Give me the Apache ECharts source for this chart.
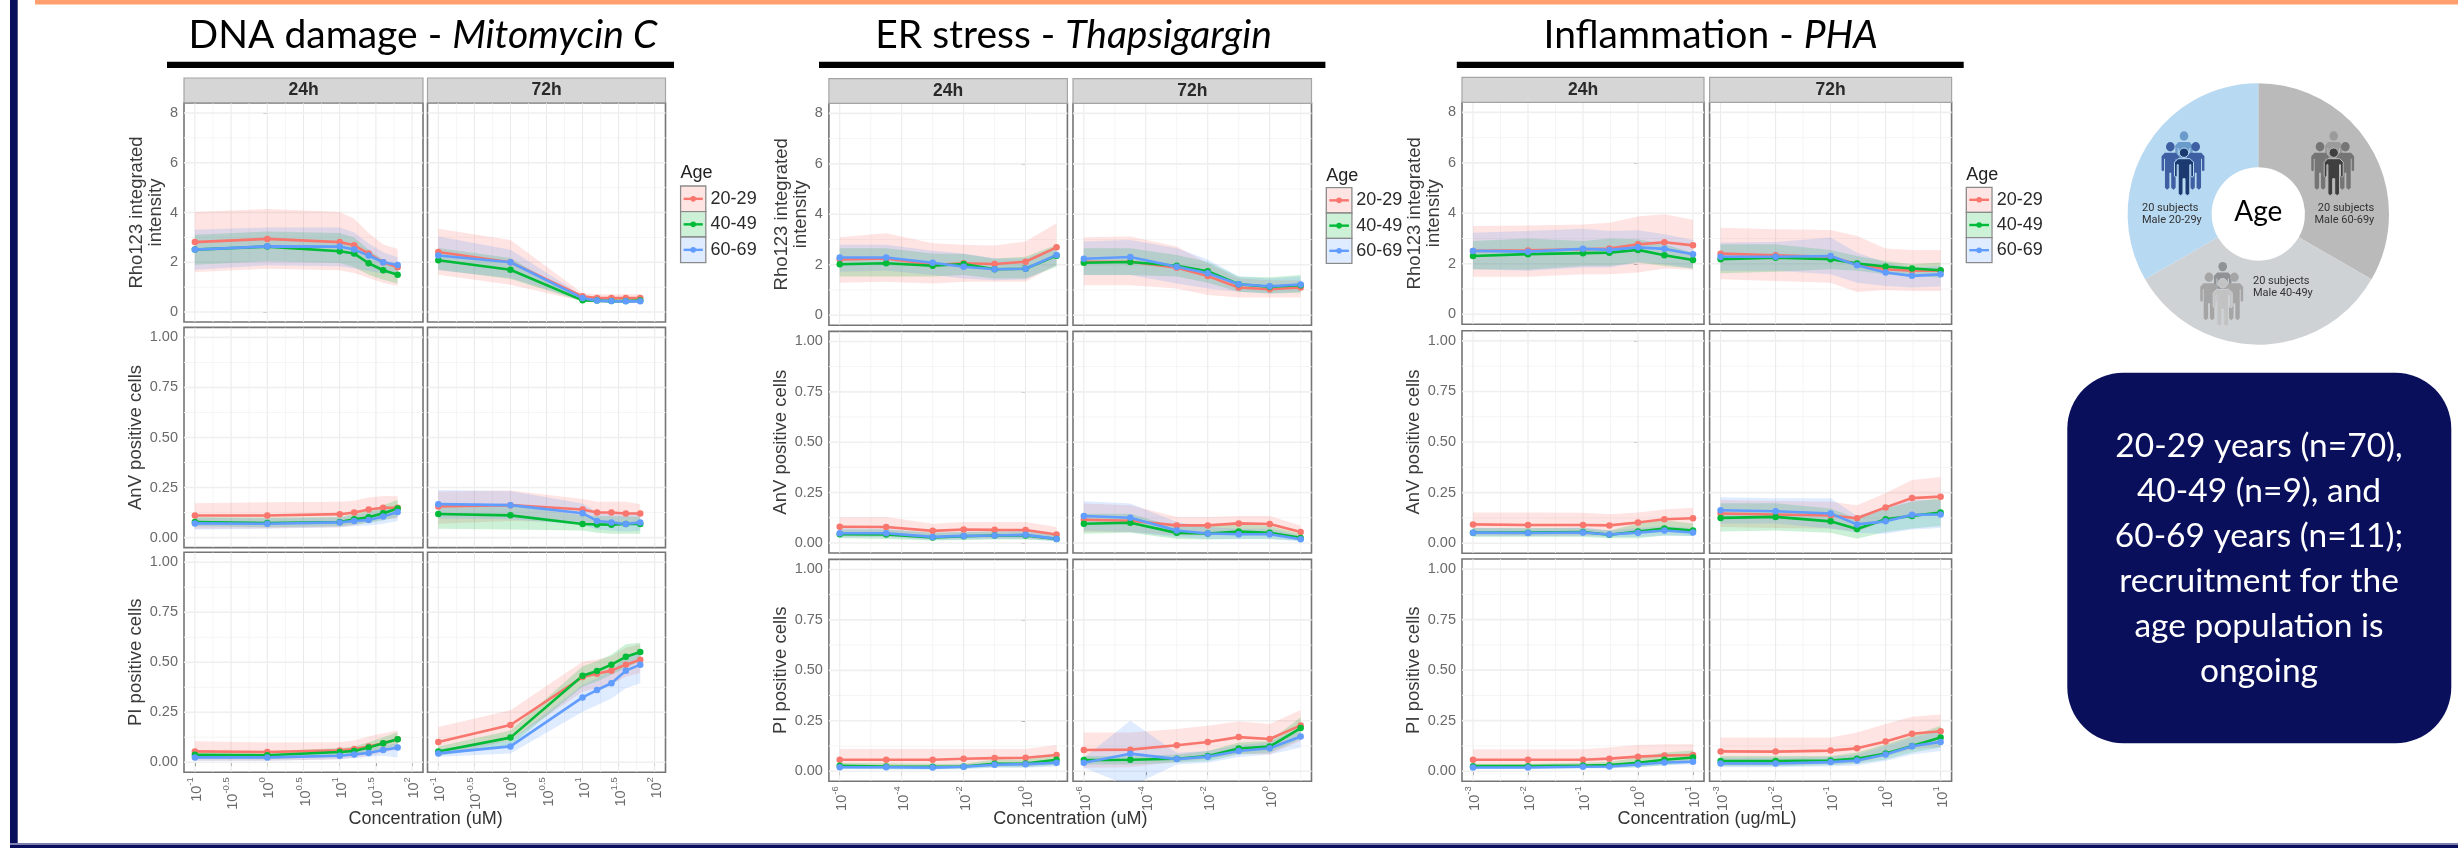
<!DOCTYPE html>
<html>
<head>
<meta charset="utf-8">
<style>html,body{margin:0;padding:0;background:#fff}#c{width:2458px;height:848px;filter:blur(0.45px)}</style>
<script src="https://cdn.jsdelivr.net/npm/echarts@6/dist/echarts.min.js"></script>
</head>
<body>
<div id="c"></div>
<script>
// ---------- categories & tick labels ----------
const ageGroups = ['20-29','40-49','60-69'];
const timepoints = ['24h','72h'];
const readouts = ['Rho123 integrated\nintensity','AnV positive cells','PI positive cells'];
const rhoTicks = [0,2,4,6,8];
const rhoMinor = [1,3,5,7];
const fracTicks = [0,0.25,0.5,0.75,1];
const fracMinor = [0.125,0.375,0.625,0.875];

const dnaLogConc = [-1,0,1,1.2,1.4,1.6,1.8];
const erLogConc  = [-6,-4.5,-3,-2,-1,0,1];
const phaLogConc = [-3,-2,-1,-0.52,0,0.48,1];
const dnaTicks = [-1,-0.5,0,0.5,1,1.5,2];
const dnaMinor = [-0.75,-0.25,0.25,0.75,1.25,1.75];
const erTicks = [-6,-4,-2,0];
const erMinor = [-5,-3,-1,1];
const phaTicks = [-3,-2,-1,0,1];
const phaMinor = [-2.5,-1.5,-0.5,0.5];

// ---------- series values: [age group] -> [mean, lower, upper] ----------
const dnaRho24 = [
 [[2.81,2.94,2.81,2.68,2.35,2.0,1.80],[1.61,1.74,1.68,1.57,1.37,1.17,1.06],[4.02,4.14,4.02,3.75,3.18,2.71,2.53]],
 [[2.51,2.63,2.44,2.35,1.96,1.68,1.50],[1.9,2.04,1.97,1.8,1.5,1.3,1.15],[3.11,3.24,3.18,3.0,2.5,2.1,1.85]],
 [[2.51,2.64,2.63,2.51,2.27,2.0,1.89],[1.7,1.88,1.84,1.75,1.65,1.55,1.55],[3.31,3.4,3.4,3.2,2.75,2.4,2.2]]];
const dnaRho72 = [
 [[2.41,2.0,0.63,0.56,0.56,0.56,0.56],[1.5,1.1,0.43,0.36,0.36,0.36,0.36],[3.35,2.9,0.76,0.72,0.72,0.72,0.72]],
 [[2.08,1.70,0.47,0.46,0.44,0.44,0.46],[1.7,1.33,0.42,0.4,0.38,0.38,0.4],[2.57,2.17,0.5,0.5,0.5,0.5,0.5]],
 [[2.27,2.0,0.56,0.46,0.44,0.43,0.43],[1.68,1.37,0.47,0.39,0.38,0.37,0.37],[3.04,2.5,0.65,0.53,0.5,0.5,0.5]]];
const dnaAnv24 = [
 [[.11,.11,.117,.125,.14,.149,.149],[.044,.047,.052,.061,.078,.091,.095],[.172,.177,.179,.184,.2,.208,.206]],
 [[.078,.073,.078,.091,.101,.122,.145],[.057,.052,.057,.066,.073,.086,.103],[.103,.1,.103,.12,.137,.162,.188]],
 [[.071,.069,.076,.083,.088,.105,.128],[.04,.044,.052,.057,.061,.069,.083],[.098,.095,.1,.111,.125,.142,.159]]];
const dnaAnv72 = [
 [[.155,.162,.14,.125,.125,.12,.12],[.069,.083,.078,.064,.061,.061,.064],[.23,.235,.193,.179,.179,.179,.167]],
 [[.118,.111,.068,.066,.064,.068,.068],[.044,.04,.035,.024,.019,.019,.019],[.17,.162,.111,.108,.106,.106,.103]],
 [[.167,.162,.122,.083,.076,.068,.076],[.095,.091,.064,.04,.035,.03,.035],[.238,.233,.17,.128,.12,.111,.12]]];
const dnaPi24 = [
 [[.054,.051,.059,.066,.078,.095,.115],[.007,.007,.015,.024,.032,.049,.066],[.105,.098,.1,.108,.128,.145,.159]],
 [[.037,.035,.051,.056,.074,.095,.115],[.019,.015,.029,.035,.049,.066,.083],[.057,.054,.071,.078,.1,.125,.15]],
 [[.024,.024,.032,.039,.046,.061,.073],[.007,.007,.015,.02,.027,.032,.024],[.041,.041,.049,.054,.066,.083,.095]]];
const dnaPi72 = [
 [[.101,.186,.426,.443,.458,.488,.512],[.032,.108,.353,.37,.387,.429,.446],[.176,.26,.502,.514,.53,.573,.59]],
 [[.054,.123,.432,.456,.488,.527,.551],[.032,.083,.378,.404,.4375,.471,.505],[.078,.159,.48,.505,.539,.59,.598]],
 [[.044,.079,.324,.361,.395,.458,.488],[.027,.044,.252,.285,.319,.37,.395],[.066,.108,.387,.42,.463,.522,.547]]];

const erRho24 = [
 [[2.21,2.25,1.99,2.06,2.03,2.12,2.69],[1.29,1.33,1.26,1.33,1.33,1.33,1.99],[3.09,3.25,2.85,2.79,2.76,2.92,3.65]],
 [[2.02,2.06,1.96,2.03,1.82,1.84,2.36],[1.53,1.53,1.53,1.59,1.46,1.46,1.92],[2.65,2.65,2.45,2.43,2.25,2.32,2.79]],
 [[2.29,2.29,2.08,1.92,1.82,1.84,2.39],[1.72,1.76,1.59,1.46,1.39,1.42,1.99],[2.79,2.79,2.56,2.45,2.25,2.25,2.72]]];
const erRho72 = [
 [[2.12,2.12,1.88,1.55,1.10,1.03,1.10],[1.19,1.19,1.06,.8,.7,.7,.7],[3.09,3.12,2.72,2.06,1.46,1.39,1.39]],
 [[2.08,2.11,1.96,1.74,1.23,1.13,1.19],[1.59,1.59,1.53,1.29,.93,.86,.89],[2.65,2.65,2.39,2.12,1.53,1.5,1.59]],
 [[2.24,2.31,1.92,1.66,1.23,1.15,1.22],[1.59,1.59,1.26,1.06,.93,.86,.93],[2.92,2.98,2.65,2.21,1.53,1.46,1.53]]];
const erAnv24 = [
 [[.08,.079,.06,.067,.065,.064,.042],[.033,.032,.02,.023,.023,.023,.012],[.127,.129,.095,.104,.104,.104,.079]],
 [[.043,.042,.027,.033,.037,.037,.02],[.023,.02,.012,.015,.017,.017,.01],[.067,.067,.05,.054,.057,.057,.037]],
 [[.048,.048,.03,.035,.037,.04,.02],[.028,.028,.015,.017,.02,.02,.008],[.074,.07,.05,.057,.057,.062,.037]]];
const erAnv72 = [
 [[.115,.11,.087,.087,.097,.094,.054],[.054,.054,.037,.037,.045,.045,.02],[.196,.187,.129,.129,.134,.134,.087]],
 [[.095,.1,.05,.047,.057,.05,.025],[.045,.05,.02,.017,.02,.02,.012],[.145,.145,.079,.087,.095,.084,.045]],
 [[.134,.125,.062,.047,.043,.043,.018],[.062,.054,.028,.02,.02,.02,.007],[.207,.196,.104,.079,.07,.07,.037]]];
const erPi24 = [
 [[.057,.057,.057,.062,.065,.067,.08],[.025,.025,.02,.02,.025,.025,.037],[.11,.11,.11,.11,.11,.11,.13]],
 [[.027,.023,.022,.023,.037,.038,.057],[.013,.01,.01,.013,.02,.02,.03],[.042,.04,.037,.037,.058,.058,.083]],
 [[.02,.02,.018,.022,.032,.035,.042],[.01,.01,.008,.01,.017,.017,.023],[.03,.03,.028,.033,.045,.047,.058]]];
const erPi72 = [
 [[.105,.107,.129,.145,.169,.16,.227],[.017,.02,.047,.062,.087,.083,.15],[.192,.192,.209,.225,.247,.234,.304]],
 [[.055,.057,.062,.075,.112,.122,.214],[.033,.033,.042,.05,.083,.092,.159],[.075,.075,.083,.1,.142,.15,.267]],
 [[.042,.087,.06,.072,.1,.114,.172],[.017,-.075,.033,.042,.07,.083,.117],[.067,.25,.092,.1,.13,.142,.22]]];

const phaRho24 = [
 [[2.51,2.53,2.57,2.60,2.77,2.85,2.73],[1.48,1.48,1.58,1.58,1.65,1.81,1.76],[3.5,3.52,3.56,3.63,3.87,3.96,3.74]],
 [[2.31,2.38,2.42,2.44,2.55,2.34,2.15],[1.78,1.76,1.91,1.91,2.05,1.91,1.81],[2.9,3.0,2.9,3.0,2.97,2.77,2.44]],
 [[2.51,2.48,2.59,2.55,2.65,2.59,2.38],[1.78,1.72,1.85,1.85,2.05,1.98,1.81],[3.23,3.3,3.39,3.3,3.33,3.17,2.94]]];
const phaRho72 = [
 [[2.4,2.34,2.28,1.98,1.78,1.72,1.72],[1.39,1.32,1.25,.88,.96,.92,.92],[3.43,3.37,3.34,3.1,2.6,2.55,2.55]],
 [[2.18,2.24,2.18,2.01,1.89,1.81,1.74],[1.62,1.68,1.78,1.72,1.58,1.52,1.45],[2.77,2.77,2.55,2.31,2.11,1.98,2.05]],
 [[2.28,2.28,2.31,1.94,1.65,1.52,1.58],[1.72,1.72,1.58,1.25,1.12,1.06,1.1],[2.84,2.86,3.04,2.44,2.05,1.85,1.91]]];
const phaAnv24 = [
 [[.093,.09,.09,.088,.102,.118,.123],[.038,.038,.038,.038,.052,.063,.072],[.152,.152,.15,.143,.152,.167,.175]],
 [[.052,.052,.055,.042,.058,.073,.063],[.03,.03,.03,.025,.025,.038,.035],[.075,.075,.075,.063,.097,.113,.097]],
 [[.052,.05,.053,.043,.052,.063,.053],[.035,.035,.035,.03,.03,.038,.035],[.075,.072,.077,.063,.075,.085,.075]]];
const phaAnv72 = [
 [[.147,.142,.137,.123,.177,.223,.23],[.08,.075,.072,.058,.108,.138,.138],[.213,.208,.205,.188,.247,.313,.327]],
 [[.125,.13,.108,.07,.118,.135,.152],[.058,.063,.052,.022,.055,.072,.085],[.197,.197,.172,.122,.172,.205,.222]],
 [[.163,.158,.147,.093,.108,.14,.142],[.097,.097,.072,.052,.047,.068,.075],[.227,.222,.222,.135,.18,.213,.213]]];
const phaPi24 = [
 [[.057,.057,.057,.062,.072,.078,.08],[.025,.025,.025,.025,.033,.042,.042],[.108,.108,.108,.117,.13,.133,.133]],
 [[.025,.025,.028,.03,.042,.057,.068],[.013,.013,.017,.017,.02,.03,.042],[.037,.037,.042,.047,.067,.092,.103]],
 [[.018,.018,.022,.023,.033,.043,.047],[.012,.012,.013,.013,.02,.03,.033],[.027,.027,.03,.033,.047,.058,.063]]];
const phaPi72 = [
 [[.098,.097,.102,.113,.147,.185,.198],[.03,.03,.037,.042,.075,.108,.12],[.167,.167,.167,.192,.233,.27,.28]],
 [[.05,.05,.053,.062,.087,.125,.167],[.025,.025,.03,.037,.058,.092,.117],[.075,.075,.075,.092,.133,.175,.225]],
 [[.038,.038,.045,.053,.083,.123,.145],[.02,.02,.025,.028,.05,.083,.1],[.067,.067,.07,.083,.125,.167,.197]]];

const cohortSubjects = [20,20,20];
const cohortNames = ['Male 60-69y','Male 40-49y','Male 20-29y'];
const noteLines = ['20-29 years (n=70),','40-49 (n=9), and','60-69 years (n=11);','recruitment for the','age population is','ongoing'];

// ---------- styles ----------
const AGE_COLORS = ['#F8766D','#00BA38','#619CFF'];
const RIBBON_ALPHA = 0.2;
const NAVY = '#0a0f5c';
const SANS = '"Liberation Sans", Arial, sans-serif';
const HEAD = 'Lato, sans-serif';
const AXIS_GREY = '#7a7a7a';
const LABEL_GREY = '#6a6a6a';

// ---------- layout ----------
const experiments = [
 {title:'DNA damage - ', drug:'Mitomycin C', titleX:423, rule:[167,674], unit:'Concentration (uM)', unitX:425.6,
  cols:[[184,423],[427.5,665.5]], strip:[78,102.7],
  rows:[[103,322],[327.4,547.6],[552.3,772.2]], xr:[-1.15,2.15], nameGap:[15,23],
  x:dnaLogConc, ticks:dnaTicks, minor:dnaMinor,
  data:[[dnaRho24,dnaRho72],[dnaAnv24,dnaAnv72],[dnaPi24,dnaPi72]],
  legend:{x:680.6,w:25.2,ys:[186,211.7,237,262.7],ageY:172.7,labX:710.6}},
 {title:'ER stress - ', drug:'Thapsigargin', titleX:1073.5, rule:[819,1325.4], unit:'Concentration (uM)', unitX:1070.4,
  cols:[[828.9,1067.4],[1073,1311.5]], strip:[78.7,103.3],
  rows:[[103.3,325.3],[331.4,553],[559.4,781.3]], xr:[-6.35,1.35], nameGap:[15,23],
  x:erLogConc, ticks:erTicks, minor:erMinor,
  data:[[erRho24,erRho72],[erAnv24,erAnv72],[erPi24,erPi72]],
  legend:{x:1326.3,w:25.6,ys:[187.7,213,238.3,263.3],ageY:175.7,labX:1356.2}},
 {title:'Inflammation - ', drug:'PHA', titleX:1710.7, rule:[1456.8,1963.7], unit:'Concentration (ug/mL)', unitX:1707,
  cols:[[1462,1704],[1709.6,1951.6]], strip:[77.3,102.3],
  rows:[[102.3,324.3],[330.8,553.3],[559,781.3]], xr:[-3.2,1.2], nameGap:[16,24],
  x:phaLogConc, ticks:phaTicks, minor:phaMinor,
  data:[[phaRho24,phaRho72],[phaAnv24,phaAnv72],[phaPi24,phaPi72]],
  legend:{x:1966.3,w:25.7,ys:[187.3,212.3,237.7,262.7],ageY:175,labX:1996.7}}
];

function ribbonFill(i){
  return echarts.color.modifyAlpha(AGE_COLORS[i], RIBBON_ALPHA);
}

const grids=[],xAxes=[],yAxes=[],series=[],graphics=[];

function txt(x,y,text,o){
  graphics.push({type:'text',x,y,z:50,silent:true,style:Object.assign({
    text,fontFamily:SANS,fontSize:16,fill:'#222',textAlign:'left',textVerticalAlign:'middle'},o||{})});
}
function rect(x,y,w,h,fill,o){
  graphics.push({type:'rect',z:o&&o.z||40,silent:true,shape:{x,y,width:w,height:h,r:o&&o.r||0},
    style:{fill,stroke:o&&o.stroke||null,lineWidth:o&&o.lw||0}});
}

experiments.forEach(function(ex){
  ex.rows.forEach(function(row,r){
    ex.cols.forEach(function(col,c){
      const idx=grids.length;
      const isRho=r===0;
      const yr=isRho?[-0.4,8.4]:[-0.05,1.05];
      const yMaj=isRho?rhoTicks:fracTicks;
      const yMin=isRho?rhoMinor:fracMinor;
      const bottom=r===2,left=c===0;
      grids.push({left:col[0],top:row[0],width:col[1]-col[0],height:row[1]-row[0],
        show:true,backgroundColor:'#fff',borderColor:'#757575',borderWidth:1.6,containLabel:false});
      xAxes.push({type:'value',gridIndex:idx,min:ex.xr[0],max:ex.xr[1],
        splitLine:{show:false},minorSplitLine:{show:false},axisLine:{show:false},
        axisTick:{show:bottom,length:4,customValues:ex.ticks,lineStyle:{color:AXIS_GREY,width:1}},
        axisLabel:{show:bottom,rotate:90,margin:5,customValues:ex.ticks,color:LABEL_GREY,hideOverlap:false,
          showMinLabel:true,showMaxLabel:true,
          formatter:function(v){return '{b|10}{s|'+v+'}';},
          rich:{b:{fontFamily:SANS,fontSize:14.5,color:LABEL_GREY,lineHeight:19,verticalAlign:'bottom'},
                s:{fontFamily:SANS,fontSize:9.5,color:LABEL_GREY,lineHeight:12,verticalAlign:'top'}}}});
      yAxes.push({type:'value',gridIndex:idx,min:yr[0],max:yr[1],
        name:left?readouts[r]:'',nameLocation:'middle',nameRotate:90,nameGap:isRho?ex.nameGap[0]:ex.nameGap[1],
        nameTextStyle:{fontFamily:SANS,fontSize:18.5,color:'#3a3a3a',lineHeight:19.5},
        splitLine:{show:false},axisLine:{show:false},
        axisTick:{show:left,length:4,customValues:yMaj,lineStyle:{color:AXIS_GREY,width:1}},
        axisLabel:{show:left,margin:6,customValues:yMaj,color:LABEL_GREY,fontFamily:SANS,fontSize:14.5,hideOverlap:false,
          showMinLabel:true,showMaxLabel:true,
          formatter:function(v){return isRho?String(v):v.toFixed(2);}}});
      // grid lines, through the axis scales
      series.push({type:'custom',xAxisIndex:idx,yAxisIndex:idx,silent:true,clip:true,
        data:[[ex.x[0],yMaj[0]]],
        renderItem:function(p,api){
          const s=p.coordSys,kids=[];
          function vline(v,w,col){const X=api.coord([v,yr[0]])[0];
            kids.push({type:'line',shape:{x1:X,y1:s.y,x2:X,y2:s.y+s.height},style:{stroke:col,lineWidth:w}});}
          function hline(v,w,col){const Y=api.coord([ex.xr[0],v])[1];
            kids.push({type:'line',shape:{x1:s.x,y1:Y,x2:s.x+s.width,y2:Y},style:{stroke:col,lineWidth:w}});}
          ex.minor.forEach(function(v){vline(v,0.8,'#f3f3f3');});
          yMin.forEach(function(v){hline(v,1,'#f5f5f5');});
          ex.ticks.forEach(function(v){vline(v,1,'#e9e9e9');});
          yMaj.forEach(function(v){hline(v,1.6,'#efefef');});
          return {type:'group',children:kids};
        }});
      const panel=ex.data[r][c];
      panel.forEach(function(age,a){
        const rows=ex.x.map(function(x,i){return [x,age[1][i],age[2][i]];});
        series.push({type:'custom',name:ageGroups[a],xAxisIndex:idx,yAxisIndex:idx,silent:true,clip:true,
          encode:{x:0,y:[1,2]},data:rows,
          renderItem:function(p,api){
            if(p.dataIndex!==0) return null;
            const upper=rows.map(function(q){return api.coord([q[0],q[2]]);});
            const lower=rows.map(function(q){return api.coord([q[0],q[1]]);}).reverse();
            return {type:'polygon',shape:{points:upper.concat(lower)},style:{fill:ribbonFill(a)}};
          }});
      });
      panel.forEach(function(age,a){
        series.push({type:'line',name:ageGroups[a],xAxisIndex:idx,yAxisIndex:idx,silent:true,
          data:ex.x.map(function(x,i){return [x,age[0][i]];}),
          symbol:'circle',symbolSize:6.5,showSymbol:true,smooth:false,clip:true,
          lineStyle:{color:AGE_COLORS[a],width:2.6},itemStyle:{color:AGE_COLORS[a]}});
      });
      // facet strip
      if(r===0){
        rect(col[0],ex.strip[0],col[1]-col[0],ex.strip[1]-ex.strip[0],'#d6d6d6',{stroke:'#a5a5a5',lw:1.2});
        txt((col[0]+col[1])/2,(ex.strip[0]+ex.strip[1])/2,timepoints[c],
          {fontWeight:'bold',fontSize:17.5,fill:'#2a2a2a',textAlign:'center'});
      }
    });
  });
  // heading + rule
  graphics.push({type:'text',x:ex.titleX,y:35.5,z:50,silent:true,style:{
    text:ex.title+'{i|'+ex.drug+'}',fontFamily:HEAD,fontSize:39,fill:'#000',textAlign:'center',textVerticalAlign:'middle',
    rich:{i:{fontFamily:HEAD,fontStyle:'italic',fontSize:39,fill:'#000'}}}});
  rect(ex.rule[0],61.7,ex.rule[1]-ex.rule[0],6.2,'#000');
  // shared x title
  txt(ex.unitX,819.3,ex.unit,{fontSize:18,fill:'#333',textAlign:'center'});
  // legend
  const L=ex.legend;
  txt(L.x,L.ageY,'Age',{fontSize:18,fill:'#222'});
  ageGroups.forEach(function(g,a){
    const y0=L.ys[a],y1=L.ys[a+1],ym=(y0+y1)/2;
    rect(L.x,y0,L.w,y1-y0,'#fff',{stroke:'#8a8a8a',lw:1.3});
    rect(L.x+0.7,y0+0.7,L.w-1.4,y1-y0-1.4,ribbonFill(a));
    graphics.push({type:'line',z:41,silent:true,shape:{x1:L.x+3,y1:ym,x2:L.x+L.w-3,y2:ym},style:{stroke:AGE_COLORS[a],lineWidth:2.4}});
    graphics.push({type:'circle',z:41,silent:true,shape:{cx:L.x+L.w/2,cy:ym,r:2.8},style:{fill:AGE_COLORS[a]}});
    txt(L.labX,ym,g,{fontSize:18,fill:'#2a2a2a'});
  });
});

// frame
rect(10,0,7.7,848,NAVY);
rect(10,843,2448,2,'#8080b0');
rect(10,845,2448,3,NAVY);
rect(35,0,2423,4.6,'#ff9f6d');

// cohort doughnut
const PIE_CX=2258.3,PIE_CY=214;
series.push({type:'pie',center:[PIE_CX,PIE_CY],radius:[46.7,130.7],startAngle:90,clockwise:true,silent:true,
  label:{show:false},labelLine:{show:false},
  data:cohortNames.map(function(n,i){return {name:n,value:cohortSubjects[i],
    itemStyle:{color:['#bababa','#cfd2d5','#b8d9f2'][i]}};})});

// people icons (decoration)
const BODY=[[-6,6],[6,6],[9.5,9.5],[9.5,23.5],[8,24.5],[6.8,23.5],[6.8,12],[5.8,12],[5.8,41],[3.5,43],[1,41],[1,26],[-1,26],[-1,41],[-3.5,43],[-5.8,41],[-5.8,12],[-6.8,12],[-6.8,23.5],[-8,24.5],[-9.5,23.5],[-9.5,9.5]];
function person(x,y,sx,fill,halo){
  const st=halo?{stroke:halo,lineWidth:1}:{};
  graphics.push({type:'group',x,y,scaleX:sx,silent:true,children:[
    {type:'polygon',z:45,silent:true,shape:{points:BODY},style:Object.assign({fill},st)},
    {type:'circle',z:45,silent:true,shape:{cx:0,cy:0,r:4.7},style:Object.assign({fill},st)}
  ]});
}
function people(cx,cy,back,side,front,halo){
  person(cx,cy-16.7,0.92,back);
  person(cx-13.7,cy-6,0.92,side);
  person(cx+11.7,cy-6,0.92,side);
  person(cx,cy,1,front,halo);
}
people(2184,152.7,'#6b9bcb','#3f5fa3','#1b3a70','#b8d9f2');
people(2333.7,152.7,'#9b9b9b','#757575','#3f3f3f','#bababa');
people(2222.7,283.3,'#8f9296','#a5a5a5','#c2c2c2','#cfd2d5');

const ROB={fontFamily:'Roboto, sans-serif',fontSize:11,fill:'#333'};
txt(2142,208,'20 subjects',ROB);
txt(2142,220.7,cohortNames[2],ROB);
txt(2374.3,208,'20 subjects',Object.assign({textAlign:'right'},ROB));
txt(2374.3,220.7,cohortNames[0],Object.assign({textAlign:'right'},ROB));
txt(2253,281,'20 subjects',ROB);
txt(2253,293.3,cohortNames[1],ROB);
txt(PIE_CX,211.7,'Age',{fontFamily:HEAD,fontSize:28,fill:'#000',textAlign:'center'});

// note box
rect(2067.3,372.7,384,370.6,NAVY,{r:56});
noteLines.forEach(function(l,i){
  txt(2259,446.7+i*45,l,{fontFamily:HEAD,fontSize:33.5,fill:'#fff',textAlign:'center'});
});

const chart=echarts.init(document.getElementById('c'),null,{renderer:'canvas',width:2458,height:848});
chart.setOption({animation:false,backgroundColor:'#fff',grid:grids,xAxis:xAxes,yAxis:yAxes,series:series,graphic:graphics});
</script>
</body>
</html>
